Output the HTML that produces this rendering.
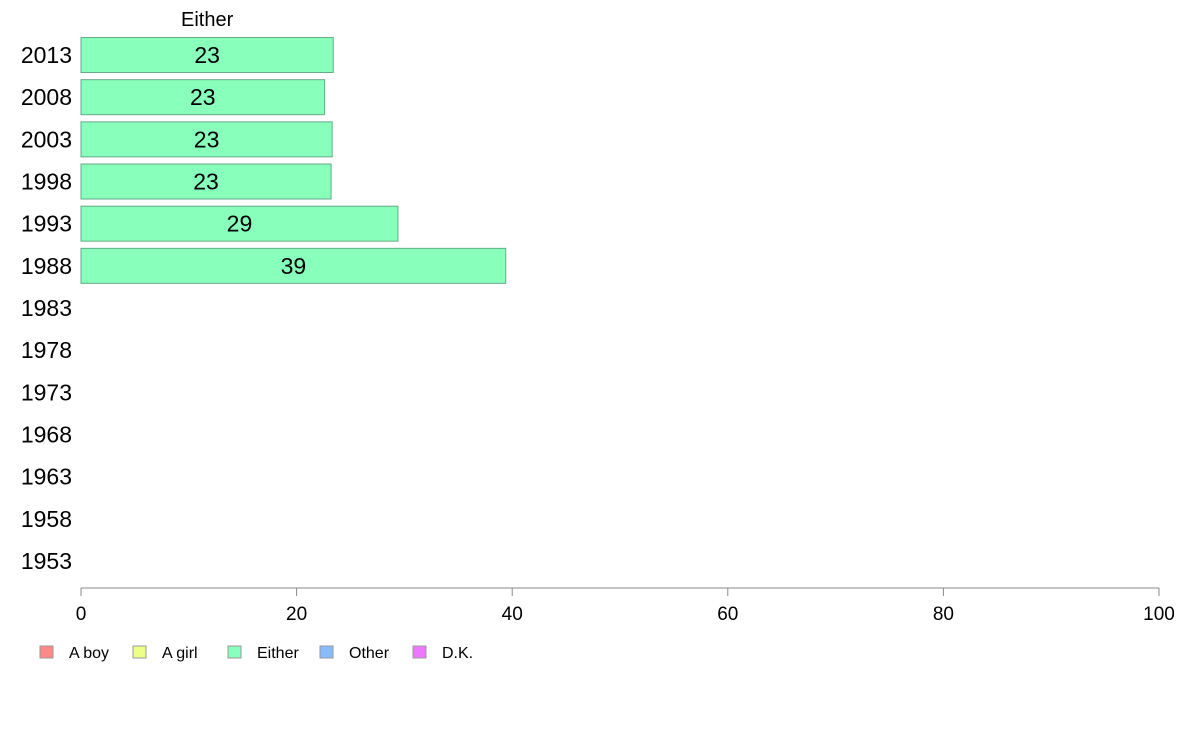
<!DOCTYPE html>
<html><head><meta charset="utf-8"><style>
body{margin:0;background:#fff;width:1188px;height:736px;overflow:hidden}
text{font-family:"Liberation Sans",Arial,sans-serif;fill:#000}
</style></head><body>
<svg id="chart" width="1188" height="736"></svg>
<script>
const years=["2013","2008","2003","1998","1993","1988","1983","1978","1973","1968","1963","1958","1953"];
const eitherValues=[23.4,22.6,23.3,23.2,29.4,39.4,null,null,null,null,null,null,null];
const xTicks=[0,20,40,60,80,100];
const legendLabels=["A boy","A girl","Either","Other","D.K."];
const legendColors=["#ff8888","#eeff88","#88ffbb","#88bbff","#ee77ff"];

const NS="http://www.w3.org/2000/svg";
const svg=document.getElementById('chart');
function mk(t,a,p){const e=document.createElementNS(NS,t);for(const k in a)e.setAttribute(k,a[k]);(p||svg).appendChild(e);return e;}
const x=v=>81+v*10.78;
const y=i=>55+i*42.17;
const bh=35;

const header=mk('text',{x:x(eitherValues[0]/2),y:26,'text-anchor':'middle','font-size':20});
header.textContent="Either";



years.forEach((yr,i)=>{
  const t=mk('text',{x:72,y:y(i)+8,'text-anchor':'end','font-size':23});
  t.textContent=yr;
  
  
  const v=eitherValues[i];
  if(v!=null){
    const r=mk('rect',{x:x(0),y:y(i)-bh/2,width:x(v)-x(0),height:bh,fill:'#88ffbb',stroke:'#66aa88','stroke-width':1});
    
    
    const l=mk('text',{x:(x(0)+x(v))/2,y:y(i)+8,'text-anchor':'middle','font-size':23});
    l.textContent=Math.round(v);
    
    
  }
});

const ax=mk('line',{x1:x(0),x2:x(100),y1:588,y2:588,stroke:'#888','stroke-width':1});


xTicks.forEach(v=>{
  const tk=mk('line',{x1:x(v),x2:x(v),y1:588,y2:596,stroke:'#888'});
  
  
  const t=mk('text',{x:x(v),y:620,'text-anchor':'middle','font-size':19});
  t.textContent=v;
  
  
});

const lx=[40,133,228,320,413];
legendLabels.forEach((lab,i)=>{
  const r=mk('rect',{x:lx[i],y:646,width:13,height:12,fill:legendColors[i],stroke:'#999'});
  
  
  const t=mk('text',{x:lx[i]+29,y:658,'font-size':16});
  t.textContent=lab;
  
  
});
</script>
</body></html>
